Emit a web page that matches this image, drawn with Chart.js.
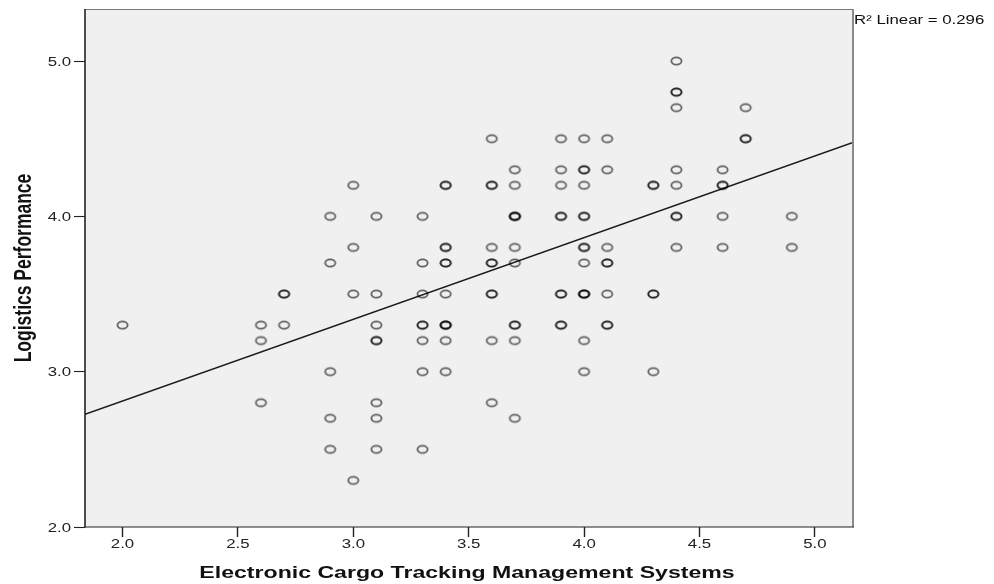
<!DOCTYPE html>
<html>
<head>
<meta charset="utf-8">
<script src="https://cdn.jsdelivr.net/npm/chart.js@4/dist/chart.umd.min.js"></script>
<style>
  html, body { margin: 0; padding: 0; background: #ffffff; }
  #wrap { width: 994px; height: 584px; }
</style>
</head>
<body>
<div id="wrap"><canvas id="c" width="994" height="584"></canvas></div>
<script>
// ---- Data (duplicates = overlapping, darker circles) ----
const xValues = [
  2.0,
  2.6, 2.6, 2.6,
  2.7, 2.7, 2.7,
  2.9, 2.9, 2.9, 2.9, 2.9,
  3.0, 3.0, 3.0, 3.0,
  3.1, 3.1, 3.1, 3.1, 3.1, 3.1, 3.1, 3.1,
  3.3, 3.3, 3.3, 3.3, 3.3, 3.3, 3.3, 3.3,
  3.4, 3.4, 3.4, 3.4, 3.4, 3.4, 3.4, 3.4, 3.4, 3.4, 3.4, 3.4,
  3.6, 3.6, 3.6, 3.6, 3.6, 3.6, 3.6, 3.6, 3.6, 3.6,
  3.7, 3.7, 3.7, 3.7, 3.7, 3.7, 3.7, 3.7, 3.7, 3.7, 3.7,
  3.9, 3.9, 3.9, 3.9, 3.9, 3.9, 3.9, 3.9, 3.9,
  4.0, 4.0, 4.0, 4.0, 4.0, 4.0, 4.0, 4.0, 4.0, 4.0, 4.0, 4.0, 4.0, 4.0,
  4.1, 4.1, 4.1, 4.1, 4.1, 4.1, 4.1, 4.1,
  4.3, 4.3, 4.3, 4.3, 4.3,
  4.4, 4.4, 4.4, 4.4, 4.4, 4.4, 4.4, 4.4, 4.4,
  4.6, 4.6, 4.6, 4.6, 4.6,
  4.7, 4.7, 4.7,
  4.9, 4.9
];
const yValues = [
  3.3,
  3.3, 3.2, 2.8,
  3.5, 3.5, 3.3,
  4.0, 3.7, 3.0, 2.7, 2.5,
  4.2, 3.8, 3.5, 2.3,
  4.0, 3.5, 3.3, 3.2, 3.2, 2.8, 2.7, 2.5,
  4.0, 3.7, 3.5, 3.3, 3.3, 3.2, 3.0, 2.5,
  4.2, 4.2, 3.8, 3.8, 3.7, 3.7, 3.5, 3.3, 3.3, 3.3, 3.2, 3.0,
  4.5, 4.2, 4.2, 3.8, 3.7, 3.7, 3.5, 3.5, 3.2, 2.8,
  4.3, 4.2, 4.0, 4.0, 4.0, 3.8, 3.7, 3.3, 3.3, 3.2, 2.7,
  4.5, 4.3, 4.2, 4.0, 4.0, 3.5, 3.5, 3.3, 3.3,
  4.5, 4.3, 4.3, 4.2, 4.0, 4.0, 3.8, 3.8, 3.7, 3.5, 3.5, 3.5, 3.2, 3.0,
  4.5, 4.3, 3.8, 3.7, 3.7, 3.5, 3.3, 3.3,
  4.2, 4.2, 3.5, 3.5, 3.0,
  5.0, 4.8, 4.8, 4.7, 4.3, 4.2, 4.0, 4.0, 3.8,
  4.3, 4.2, 4.2, 4.0, 3.8,
  4.7, 4.5, 4.5,
  4.0, 3.8
];
// Fit line end points at the plot edges
const fitX = [1.8375, 5.165];
const fitY = [2.726, 4.476];
// Axes
const xRange = [1.8375, 5.165];
const yRange = [2.0, 5.335];
const xTickValues = [2.0, 2.5, 3.0, 3.5, 4.0, 4.5, 5.0];
const xTickLabels = ['2.0', '2.5', '3.0', '3.5', '4.0', '4.5', '5.0'];
const yTickValues = [2.0, 3.0, 4.0, 5.0];
const yTickLabels = ['2.0', '3.0', '4.0', '5.0'];
const xTitle = 'Electronic Cargo Tracking Management Systems';
const yTitle = 'Logistics Performance';
const fitLabel = 'R\u00B2 Linear = 0.296';

// ---- Build structures for the library ----
const scatterPoints = xValues.map((x, i) => ({ x: x, y: yValues[i] }));
const fitPoints = fitX.map((x, i) => ({ x: x, y: fitY[i] }));

// Elliptical open marker (the reference circles are slightly wider than tall)
const marker = document.createElement('canvas');
marker.width = 15; marker.height = 12;
(function () {
  const m = marker.getContext('2d');
  m.strokeStyle = 'rgba(0,0,0,0.6)';
  m.lineWidth = 1.8;
  m.beginPath();
  m.ellipse(7.5, 6, 5.1, 3.7, 0, 0, Math.PI * 2);
  m.stroke();
})();

const SX = 1.4; // horizontal stretch of the reference's text

function stretchedText(ctx, txt, x, y, opts) {
  ctx.save();
  ctx.translate(x, y);
  ctx.scale(opts.sx || SX, 1);
  if (opts.rotate) ctx.rotate(opts.rotate);
  ctx.font = opts.font;
  ctx.fillStyle = opts.color || '#111';
  ctx.textAlign = opts.align || 'left';
  ctx.textBaseline = opts.baseline || 'alphabetic';
  ctx.fillText(txt, 0, 0);
  ctx.restore();
}

const decor = {
  id: 'decor',
  beforeDraw(chart) {
    const { ctx, chartArea: a } = chart;
    ctx.save();
    ctx.fillStyle = '#f0f0f0';
    ctx.fillRect(a.left, a.top, a.right - a.left, a.bottom - a.top);
    ctx.restore();
  },
  afterDraw(chart) {
    const { ctx, chartArea: a } = chart;
    const xs = chart.scales.x, ys = chart.scales.y;
    ctx.save();
    // frame
    ctx.strokeStyle = '#777'; ctx.lineWidth = 1;
    ctx.beginPath(); ctx.moveTo(a.left, a.top + 0.5); ctx.lineTo(a.right, a.top + 0.5); ctx.stroke();
    ctx.strokeStyle = '#8a8a8a'; ctx.lineWidth = 2;
    ctx.beginPath(); ctx.moveTo(a.right, a.top); ctx.lineTo(a.right, a.bottom); ctx.stroke();
    ctx.strokeStyle = '#222'; ctx.lineWidth = 1.6;
    ctx.beginPath(); ctx.moveTo(a.left, a.top); ctx.lineTo(a.left, a.bottom + 0.6); ctx.stroke();
    ctx.lineWidth = 1.2;
    ctx.beginPath(); ctx.moveTo(a.left, a.bottom); ctx.lineTo(a.right + 1, a.bottom); ctx.stroke();
    ctx.restore();

    const tickFont = '12px "Liberation Sans", Arial, sans-serif';
    xs.ticks.forEach((t, i) => {
      stretchedText(ctx, xTickLabels[i], xs.getPixelForValue(t.value), a.bottom + 21,
        { font: tickFont, align: 'center', color: '#222' });
    });
    ys.ticks.forEach((t, i) => {
      stretchedText(ctx, yTickLabels[i], a.left - 14, ys.getPixelForValue(t.value) + 1.5,
        { font: tickFont, align: 'right', baseline: 'middle', color: '#222' });
    });
    // axis titles
    stretchedText(ctx, xTitle, (a.left + a.right) / 2 - 2, a.bottom + 51,
      { font: 'bold 16.5px "Liberation Sans", Arial, sans-serif', align: 'center', color: '#111' });
    stretchedText(ctx, yTitle, a.left - 54, (a.top + a.bottom) / 2,
      { font: 'bold 17.5px "Liberation Sans", Arial, sans-serif', align: 'center', color: '#111', rotate: -Math.PI / 2 });
    // fit label
    stretchedText(ctx, fitLabel, a.right + 1, a.top + 15,
      { font: '12px "Liberation Sans", Arial, sans-serif', align: 'left', color: '#111' });
  }
};

new Chart(document.getElementById('c'), {
  type: 'scatter',
  data: {
    datasets: [
      {
        type: 'line',
        data: fitPoints,
        borderColor: '#1a1a1a',
        borderWidth: 1.5,
        pointRadius: 0,
        fill: false,
        tension: 0,
        order: 1
      },
      {
        type: 'scatter',
        data: scatterPoints,
        pointStyle: marker,
        pointRadius: 5,
        pointHoverRadius: 5,
        order: 0
      }
    ]
  },
  options: {
    responsive: false,
    animation: false,
    devicePixelRatio: 1,
    layout: { padding: { left: 0, top: 9, right: 141, bottom: 0 } },
    plugins: { legend: { display: false }, tooltip: { enabled: false } },
    events: [],
    scales: {
      x: {
        type: 'linear',
        min: xRange[0], max: xRange[1],
        afterBuildTicks: (s) => { s.ticks = xTickValues.map(v => ({ value: v })); },
        afterFit: (s) => { s.height = 57; },
        ticks: { display: false },
        border: { display: false },
        grid: { display: true, drawOnChartArea: false, drawTicks: true, tickLength: 10, tickColor: '#222', tickWidth: 1.4 }
      },
      y: {
        type: 'linear',
        min: yRange[0], max: yRange[1],
        afterBuildTicks: (s) => { s.ticks = yTickValues.map(v => ({ value: v })); },
        afterFit: (s) => { s.width = 85; },
        ticks: { display: false },
        border: { display: false },
        grid: { display: true, drawOnChartArea: false, drawTicks: true, tickLength: 11, tickColor: '#222', tickWidth: 1.1 }
      }
    }
  },
  plugins: [decor]
});
</script>
</body>
</html>
